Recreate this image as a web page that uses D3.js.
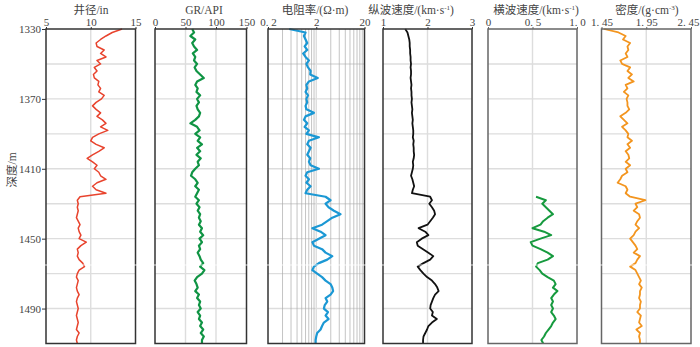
<!DOCTYPE html>
<html>
<head>
<meta charset="utf-8">
<script src="https://cdn.jsdelivr.net/npm/d3@7"></script>
<style>
  body { margin: 0; background: #fff; }
  svg { display: block; }
  text { font-family: "Liberation Serif", "Noto Sans CJK SC", serif; fill: #444; }
</style>
</head>
<body>
<div id="chart"></div>
<script>
// Well log tracks: caliper, GR, resistivity, Vp, Vs, density vs depth

// depth sampling (m)
const depthStart = 1330;
const depthStep = 2;
const depthEnd = 1510;
const depthTicks = [1330, 1370, 1410, 1450, 1490];

// 井径 (in)
const caliper = [
  13.5, 12.4, 11.7, 11.1, 10.6, 10.7, 11.5, 11.1, 11.7, 10.7,
  11.1, 10.4, 10.7, 10.3, 10.4, 10.9, 10.8, 11.1, 10.9, 11.5,
  11.2, 10.6, 10.2, 10.6, 11.1, 10.7, 11.3, 11.7, 11.1, 11.9,
  10.9, 10.2, 10.0, 10.6, 11.5, 10.9, 10.2, 9.6, 10.2, 10.7,
  10.4, 10.9, 11.1, 11.7, 10.7, 10.2, 10.6, 11.7, 8.8, 8.5,
  8.6, 8.5, 8.6, 8.5, 8.4, 8.6, 8.8, 8.6, 8.7, 8.9,
  8.7, 9.5, 8.9, 8.5, 8.6, 8.5, 8.7, 9.1, 9.3, 8.7,
  8.5, 8.4, 8.6, 8.5, 8.4, 8.5, 8.7, 8.5, 8.4, 8.5,
  8.6, 8.5, 8.4, 8.5, 8.6, 8.5, 8.4, 8.7, 8.5, 8.4,
  8.5
];

// GR (API)
const gr = [
  61, 64, 58, 66, 61, 64, 69, 62, 66, 64,
  69, 65, 68, 74, 80, 69, 66, 70, 68, 74,
  69, 72, 68, 70, 74, 72, 66, 58, 69, 73,
  66, 74, 70, 77, 69, 74, 68, 75, 70, 72,
  66, 61, 59, 66, 70, 66, 72, 69, 66, 72,
  68, 73, 70, 74, 72, 75, 72, 77, 74, 79,
  73, 77, 72, 74, 70, 73, 75, 79, 74, 81,
  77, 69, 65, 68, 70, 66, 72, 69, 74, 72,
  75, 70, 74, 72, 77, 74, 79, 75, 80, 77,
  77
];

// 电阻率 (Ω·m)
const resistivity = [
  0.55, 1.2, 1.11, 1.2, 1.3, 1.15, 1.3, 1.07, 1.2, 1.41,
  1.25, 1.35, 1.53, 1.5, 2.15, 1.41, 1.25, 1.3, 1.2, 1.35,
  1.25, 1.3, 1.2, 1.25, 1.79, 1.2, 1.11, 1.3, 1.15, 1.41,
  1.25, 2.27, 1.41, 1.3, 1.53, 1.41, 1.3, 1.5, 1.41, 1.53,
  2.27, 1.3, 1.2, 1.41, 1.25, 1.53, 1.3, 1.2, 3.12, 3.96,
  3.12, 3.6, 4.65, 6.37, 4.3, 3.38, 2.64, 1.66, 2.46, 3.12,
  2.27, 1.66, 1.79, 2.64, 3.12, 4.3, 3.38, 2.27, 1.79, 1.66,
  2.09, 2.64, 3.12, 3.96, 4.3, 4.47, 3.96, 3.12, 3.38, 3.0,
  2.88, 3.5, 3.12, 3.6, 2.88, 2.64, 2.46, 2.09, 2.0, 1.94,
  1.94
];

// 纵波速度 (km/s)
const vp = [
  1.5, 1.55, 1.57, 1.59, 1.6, 1.6, 1.61, 1.61, 1.62, 1.62,
  1.63, 1.62, 1.63, 1.63, 1.62, 1.63, 1.64, 1.63, 1.64, 1.64,
  1.65, 1.64, 1.65, 1.66, 1.65, 1.66, 1.67, 1.66, 1.67, 1.68,
  1.68, 1.67, 1.69, 1.68, 1.69, 1.69, 1.7, 1.69, 1.67, 1.68,
  1.67, 1.65, 1.63, 1.66, 1.68, 1.7, 1.67, 1.65, 2.06, 2.1,
  2.04, 2.1, 2.15, 2.17, 2.12, 2.06, 2.0, 1.8, 1.95, 2.02,
  1.87, 1.76, 1.78, 1.9, 2.02, 2.13, 2.06, 1.91, 1.78, 1.84,
  1.91, 1.99, 2.1, 2.17, 2.22, 2.25, 2.17, 2.13, 2.1, 2.07,
  2.06, 2.12, 2.1, 2.21, 2.1, 2.02, 1.99, 1.95, 1.91, 1.9,
  1.9
];

// 横波速度 (km/s), only measured below ~1426 m
const vs = [
  null, null, null, null, null, null, null, null, null, null,
  null, null, null, null, null, null, null, null, null, null,
  null, null, null, null, null, null, null, null, null, null,
  null, null, null, null, null, null, null, null, null, null,
  null, null, null, null, null, null, null, null, 0.54, 0.65,
  0.61, 0.65, 0.69, 0.73, 0.67, 0.62, 0.59, 0.5, 0.63, 0.71,
  0.59, 0.48, 0.5, 0.59, 0.67, 0.73, 0.67, 0.56, 0.54, 0.58,
  0.61, 0.67, 0.74, 0.76, 0.73, 0.78, 0.74, 0.71, 0.73, 0.71,
  0.73, 0.71, 0.74, 0.76, 0.73, 0.71, 0.68, 0.65, 0.63, 0.6,
  0.62
];

// 密度 (g/cm3)
const density = [
  1.48, 1.64, 1.72, 1.69, 1.77, 1.74, 1.75, 1.72, 1.74, 1.66,
  1.68, 1.77, 1.74, 1.79, 1.75, 1.81, 1.72, 1.74, 1.7, 1.75,
  1.73, 1.74, 1.74, 1.76, 1.72, 1.66, 1.7, 1.74, 1.68, 1.72,
  1.75, 1.74, 1.79, 1.74, 1.77, 1.72, 1.75, 1.76, 1.72, 1.77,
  1.72, 1.74, 1.68, 1.66, 1.63, 1.72, 1.74, 1.72, 1.77, 1.94,
  1.83, 1.85, 1.81, 1.87, 1.88, 1.85, 1.83, 1.87, 1.83, 1.81,
  1.77, 1.8, 1.83, 1.85, 1.81, 1.88, 1.85, 1.83, 1.77, 1.83,
  1.85, 1.87, 1.89, 1.87, 1.9, 1.88, 1.88, 1.87, 1.89, 1.88,
  1.88, 1.85, 1.89, 1.88, 1.87, 1.9, 1.84, 1.88, 1.87, 1.88,
  1.88
];

// top tick values and their printed labels
const caliperTicks = [5, 10, 15], caliperLabels = ['5', '10', '15'];
const grTicks = [0, 50, 100, 150], grLabels = ['0', '50', '100', '150'];
const resTicks = [0.2, 2, 20], resLabels = ['0. 2', '2', '20'];
const vpTicks = [1, 2, 3], vpLabels = ['1', '2', '3'];
const vsTicks = [0, 0.5, 1], vsLabels = ['0', '0. 5', '1. 0'];
const denTicks = [1.45, 1.95, 2.45], denLabels = ['1. 45', '1. 95', '2. 45'];
const resMinorGrid = [0.4, 0.6, 0.8, 1, 1.2, 1.4, 1.6, 1.8, 4, 6, 8, 10, 12, 14, 16, 18];

const W = 700, H = 347;
const plotTop = 29, plotBottom = 343.5;

const panels = [
  { title: ['井径/in'], values: caliper, x0: 46, x1: 135.5, domain: [5, 15], ticks: caliperTicks, labels: caliperLabels, grid: [10], color: '#e8432d', lw: 1.5, tx: 91, border: '#333' },
  { title: ['GR/API'], values: gr, x0: 155, x1: 246.5, domain: [0, 150], ticks: grTicks, labels: grLabels, grid: [50, 100], color: '#109444', lw: 2.2, tx: 204, border: '#333' },
  { title: ['电阻率/(Ω·m)'], values: resistivity, x0: 268, x1: 364.5, domain: [0.2, 20], log: true, ticks: resTicks, labels: resLabels, grid: [2], minor: resMinorGrid, color: '#1b98d4', lw: 2.2, tx: 315, border: '#333' },
  { title: ['纵波速度/(km·s', '-1', ')'], values: vp, x0: 383, x1: 472, domain: [1, 3], ticks: vpTicks, labels: vpLabels, grid: [2], color: '#111', lw: 1.8, tx: 411, border: '#333' },
  { title: ['横波速度/(km·s', '-1', ')'], values: vs, x0: 488, x1: 577, domain: [0, 1], ticks: vsTicks, labels: vsLabels, grid: [0.5], color: '#169a3e', lw: 2, tx: 536, border: '#666' },
  { title: ['密度/(g·cm', '-3', ')'], values: density, x0: 601.5, x1: 691, domain: [1.45, 2.45], ticks: denTicks, labels: denLabels, grid: [1.95], color: '#f3951f', lw: 1.8, tx: 647, border: '#666' }
];

const svg = d3.select('#chart').append('svg')
  .attr('width', W)
  .attr('height', H);

const y = d3.scaleLinear()
  .domain([depthStart, depthEnd])
  .range([plotTop, plotBottom]);

const depthGrid = d3.range(depthStart + 20, depthEnd, 20);

panels.forEach(p => {
  const x = (p.log ? d3.scaleLog() : d3.scaleLinear())
    .domain(p.domain)
    .range([p.x0, p.x1]);

  const g = svg.append('g');

  // horizontal grid
  g.selectAll('.hgrid')
    .data(depthGrid)
    .enter().append('line')
    .attr('x1', p.x0).attr('x2', p.x1)
    .attr('y1', d => y(d)).attr('y2', d => y(d))
    .attr('stroke', '#ddd')
    .attr('stroke-width', 1.4);

  // log minor grid
  if (p.minor) {
    g.selectAll('.mgrid')
      .data(p.minor)
      .enter().append('line')
      .attr('x1', d => x(d)).attr('x2', d => x(d))
      .attr('y1', plotTop).attr('y2', plotBottom)
      .attr('stroke', '#aaa')
      .attr('stroke-width', 0.7);
  }

  // vertical grid
  g.selectAll('.vgrid')
    .data(p.grid)
    .enter().append('line')
    .attr('x1', d => x(d)).attr('x2', d => x(d))
    .attr('y1', plotTop).attr('y2', plotBottom)
    .attr('stroke', '#ddd')
    .attr('stroke-width', 1.4);

  // curve
  const line = d3.line()
    .defined(v => v != null)
    .x(v => x(v))
    .y((v, i) => y(depthStart + i * depthStep));

  g.append('path')
    .datum(p.values)
    .attr('fill', 'none')
    .attr('stroke', p.color)
    .attr('stroke-width', p.lw)
    .attr('stroke-linejoin', 'round')
    .attr('d', line);

  // frame
  g.append('rect')
    .attr('x', p.x0).attr('y', plotTop)
    .attr('width', p.x1 - p.x0).attr('height', plotBottom - plotTop)
    .attr('fill', 'none')
    .attr('stroke', p.border)
    .attr('stroke-width', 1.5);

  // top axis
  const axis = g.append('g')
    .attr('transform', `translate(0,${plotTop})`)
    .call(d3.axisTop(x)
      .tickValues(p.ticks)
      .tickFormat((d, i) => p.labels[i])
      .tickSizeInner(2)
      .tickSizeOuter(0)
      .tickPadding(1));
  axis.select('.domain').remove();
  axis.selectAll('line').attr('stroke', p.border);
  axis.selectAll('text')
    .attr('font-size', 11)
    .attr('fill', '#444')
    .style('font-family', '"Liberation Serif", serif');
  // keep the last label inside the picture
  if (p.x1 > 680) {
    axis.selectAll('text').filter((d, i) => i === p.ticks.length - 1)
      .attr('text-anchor', 'end')
      .attr('dx', 8);
  }

  // title
  const t = svg.append('text')
    .attr('x', p.tx)
    .attr('y', 14)
    .attr('text-anchor', 'middle')
    .attr('font-size', 11.5)
    .attr('fill', '#333');
  t.append('tspan').text(p.title[0]);
  if (p.title.length > 1) {
    t.append('tspan').attr('font-size', 7).attr('dy', -4).text(p.title[1]);
    t.append('tspan').attr('dy', 4).text(p.title[2]);
  }
});

// depth axis
const yAxis = svg.append('g')
  .attr('transform', `translate(${panels[0].x0},0)`)
  .call(d3.axisLeft(y)
    .tickValues(depthTicks)
    .tickFormat(d3.format('d'))
    .tickSizeInner(4)
    .tickSizeOuter(0)
    .tickPadding(1));
yAxis.select('.domain').remove();
yAxis.selectAll('line').attr('stroke', '#333');
yAxis.selectAll('text')
  .attr('font-size', 11)
  .attr('fill', '#555');

svg.append('text')
  .attr('transform', 'translate(16,170) rotate(-90)')
  .attr('text-anchor', 'middle')
  .attr('font-size', 11.5)
  .attr('fill', '#444')
  .text('深度/m');

// faint scan line crossing the figure
svg.append('line')
  .attr('x1', 0).attr('x2', W)
  .attr('y1', 265).attr('y2', 265)
  .attr('stroke', '#fff')
  .attr('stroke-opacity', 0.8)
  .attr('stroke-width', 1);
</script>
</body>
</html>
